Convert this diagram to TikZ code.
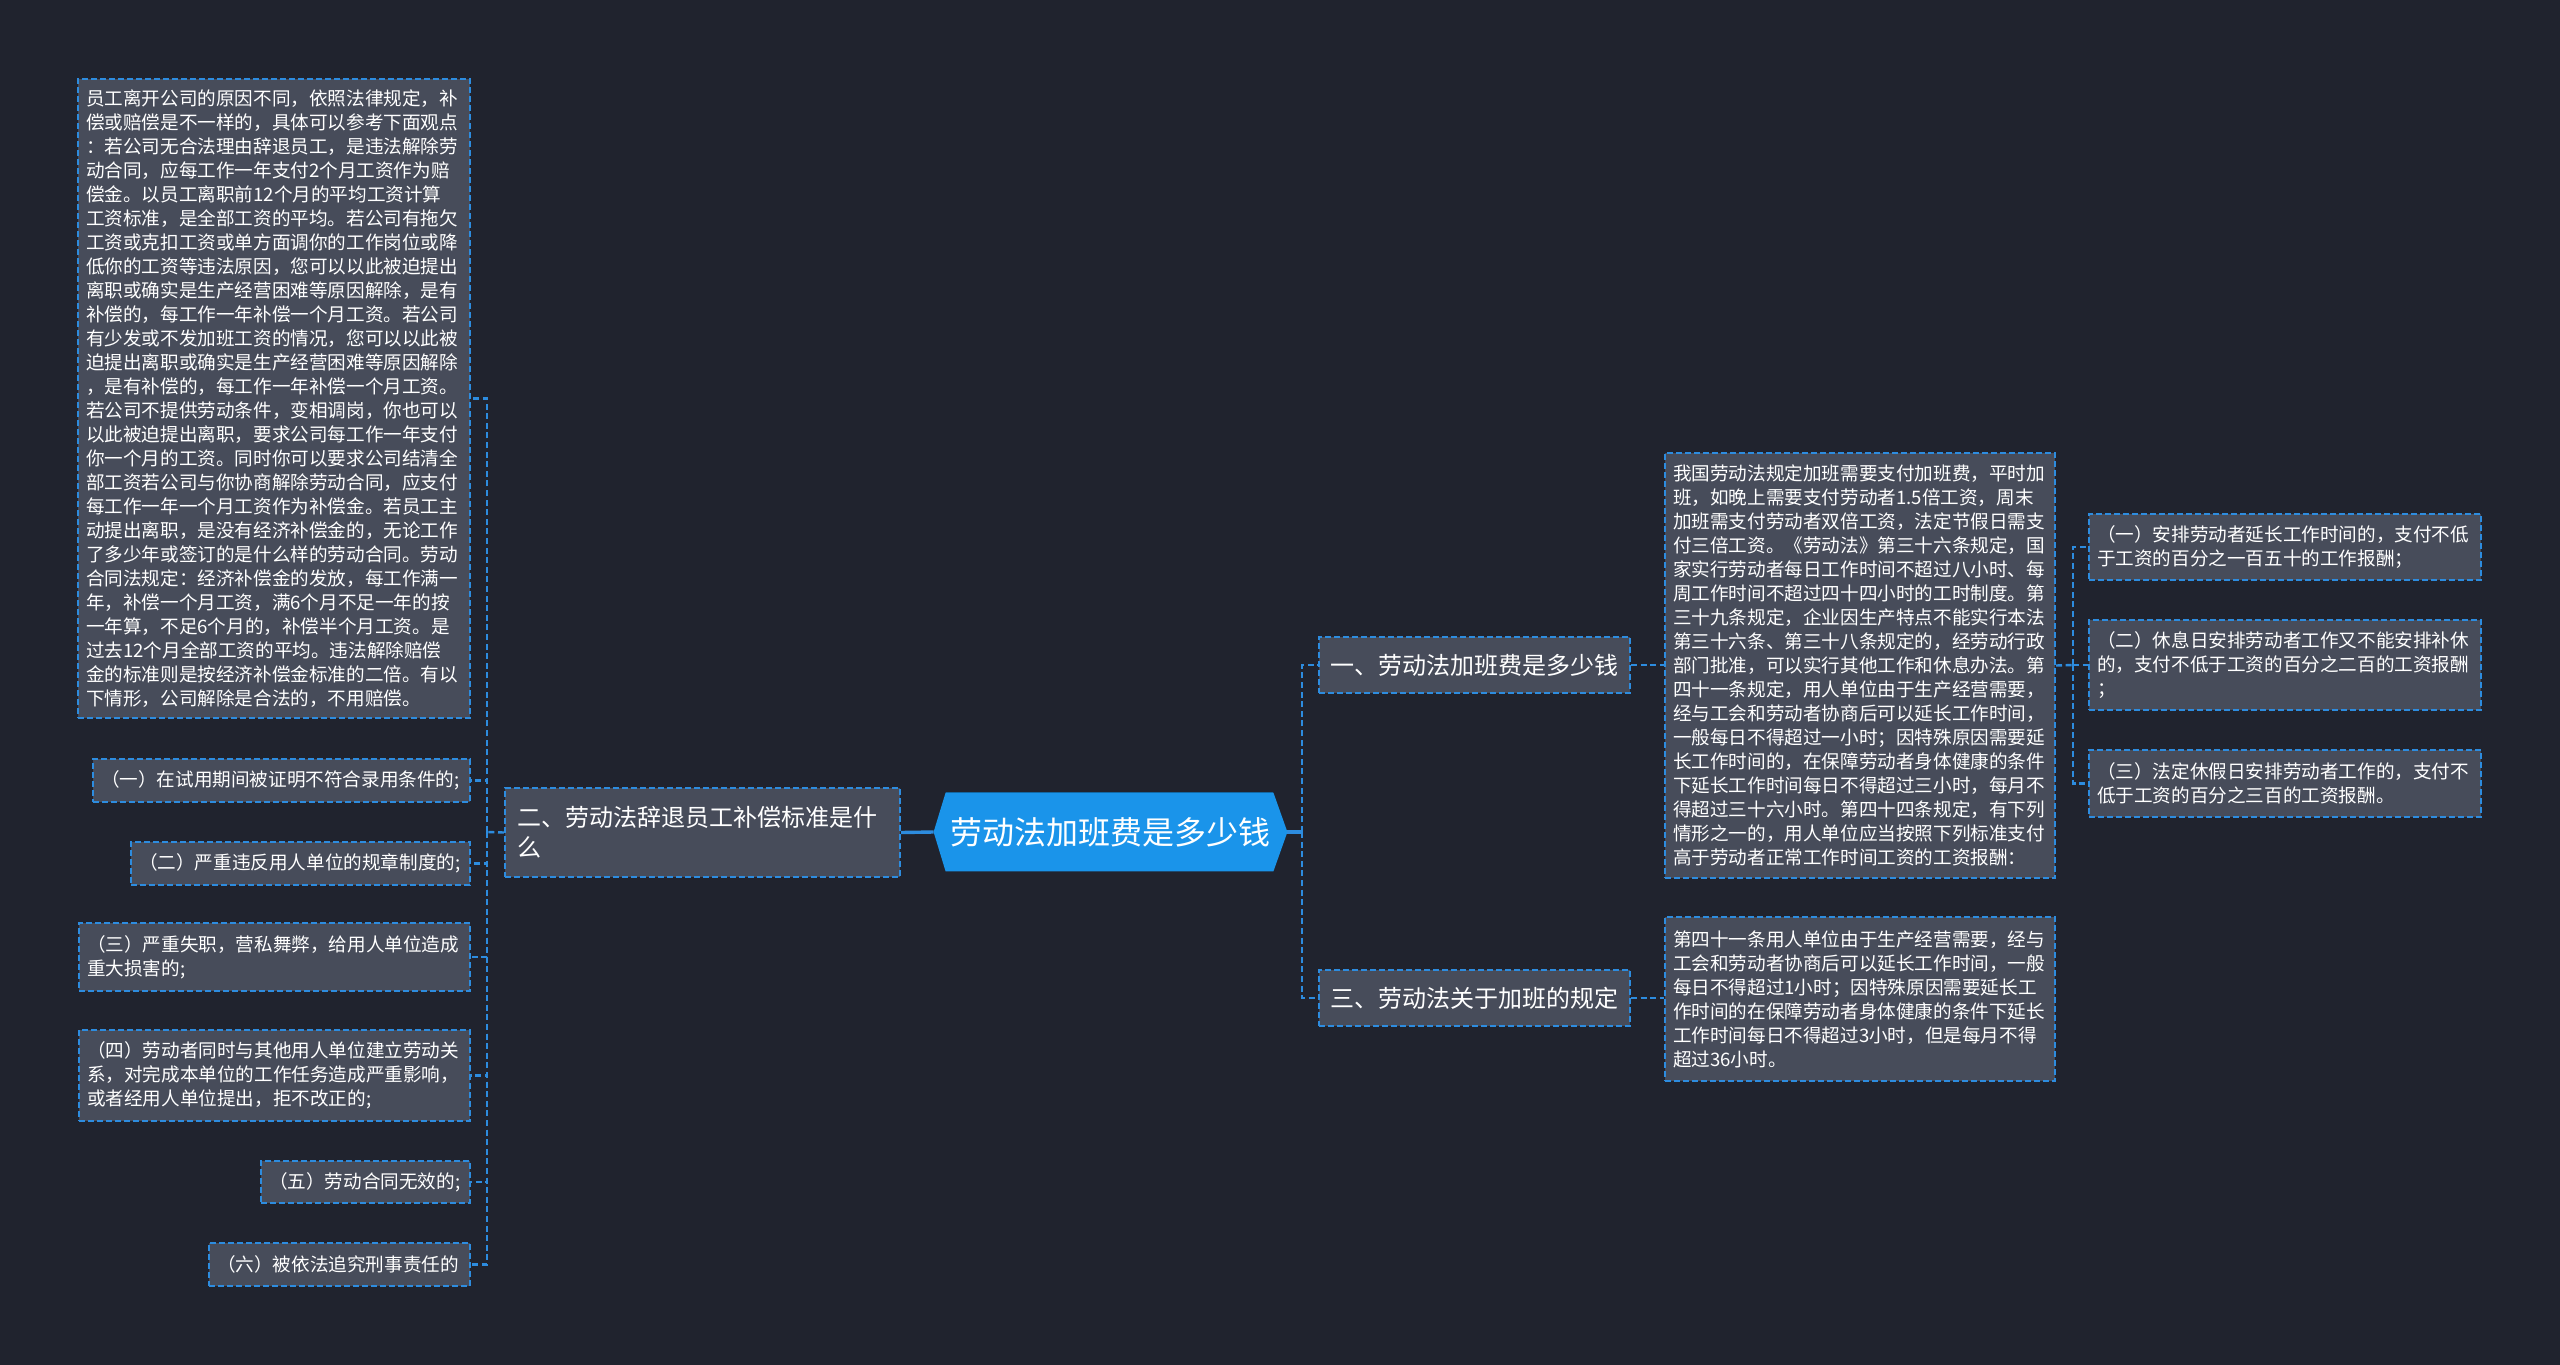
\documentclass[tikz,border=0pt]{standalone}
\usepackage{fontspec}
\setmainfont{Noto Sans CJK SC}
\usetikzlibrary{backgrounds}
\definecolor{bgc}{HTML}{20232E}
\definecolor{nodefill}{HTML}{474C5A}
\definecolor{dashblue}{HTML}{2D8CDF}
\definecolor{rootblue}{HTML}{1A94EA}
\begin{document}
\begin{tikzpicture}[x=0.5pt,y=-0.5pt,
  box/.style={draw=dashblue, fill=nodefill, line width=1pt, dash pattern=on 3pt off 1.5pt, text=white, align=left, inner ysep=0pt, anchor=center},
  small/.style={font=\fontsize{9.3}{12}\selectfont, inner xsep=4pt},
  mid/.style={font=\fontsize{12}{15}\selectfont, inner xsep=6pt},
  conn/.style={draw=dashblue, line width=1.2pt, dash pattern=on 3pt off 1.8pt},
  rootconn/.style={draw=dashblue, line width=1.7pt},
]
\useasboundingbox (0,0) rectangle (2560,1365);
\begin{scope}[on background layer]
\fill[bgc] (0,0) rectangle (2560,1365);
\end{scope}

% root
\node[font=\fontsize{16}{19}\selectfont, text=white, minimum width=176.5pt, minimum height=39pt, inner sep=0pt] (root) at (1110.5,832) {劳动法加班费是多少钱};
\begin{scope}[on background layer]
\fill[rootblue] (root.west) -- ([xshift=6pt]root.north west) -- ([xshift=-7pt]root.north east) -- (root.east) -- ([xshift=-7pt]root.south east) -- ([xshift=6pt]root.south west) -- cycle;
\draw[rootblue!70!black, line width=0.6pt] ([xshift=6pt]root.north west) -- ([xshift=-7pt]root.north east);
\end{scope}

% left branch
\node[box, mid, text width=185.5pt, minimum height=44.5pt] (n2) at (702.5,832.5) {二、劳动法辞退员工补偿标准是什\\么};

\node[box, small, text width=188pt, minimum height=319.5pt] (lbig) at (274,398.5) {员工离开公司的原因不同，依照法律规定，补\\偿或赔偿是不一样的，具体可以参考下面观点\\：若公司无合法理由辞退员工，是违法解除劳\\动合同，应每工作一年支付2个月工资作为赔\\偿金。以员工离职前12个月的平均工资计算\\工资标准，是全部工资的平均。若公司有拖欠\\工资或克扣工资或单方面调你的工作岗位或降\\低你的工资等违法原因，您可以以此被迫提出\\离职或确实是生产经营困难等原因解除，是有\\补偿的，每工作一年补偿一个月工资。若公司\\有少发或不发加班工资的情况，您可以以此被\\迫提出离职或确实是生产经营困难等原因解除\\，是有补偿的，每工作一年补偿一个月工资。\\若公司不提供劳动条件，变相调岗，你也可以\\以此被迫提出离职，要求公司每工作一年支付\\你一个月的工资。同时你可以要求公司结清全\\部工资若公司与你协商解除劳动合同，应支付\\每工作一年一个月工资作为补偿金。若员工主\\动提出离职，是没有经济补偿金的，无论工作\\了多少年或签订的是什么样的劳动合同。劳动\\合同法规定：经济补偿金的发放，每工作满一\\年，补偿一个月工资，满6个月不足一年的按\\一年算，不足6个月的，补偿半个月工资。是\\过去12个月全部工资的平均。违法解除赔偿\\金的标准则是按经济补偿金标准的二倍。有以\\下情形，公司解除是合法的，不用赔偿。};

\node[box, small, text width=180.5pt, minimum height=21.5pt] (l1) at (281.5,780.5) {（一）在试用期间被证明不符合录用条件的;};
\node[box, small, text width=161.5pt, minimum height=21.5pt] (l2) at (300.5,863.5) {（二）严重违反用人单位的规章制度的;};
\node[box, small, text width=187.5pt, minimum height=34pt] (l3) at (274.5,957) {（三）严重失职，营私舞弊，给用人单位造成\\重大损害的;};
\node[box, small, text width=187.5pt, minimum height=45.5pt] (l4) at (274.5,1075.5) {（四）劳动者同时与其他用人单位建立劳动关\\系，对完成本单位的工作任务造成严重影响，\\或者经用人单位提出，拒不改正的;};
\node[box, small, text width=96.5pt, minimum height=21pt] (l5) at (365.5,1182) {（五）劳动合同无效的;};
\node[box, small, text width=122.5pt, minimum height=21.5pt] (l6) at (339.5,1264.5) {（六）被依法追究刑事责任的};

% right branch
\node[box, mid, inner xsep=5.5pt, text width=144.5pt, minimum height=28pt] (r1) at (1474.5,665) {一、劳动法加班费是多少钱};
\node[box, mid, inner xsep=5.5pt, text width=144.5pt, minimum height=28pt] (r3) at (1474.5,998) {三、劳动法关于加班的规定};

\node[box, small, text width=187pt, minimum height=212.5pt] (rbig) at (1860,665.5) {我国劳动法规定加班需要支付加班费，平时加\\班，如晚上需要支付劳动者1.5倍工资，周末\\加班需支付劳动者双倍工资，法定节假日需支\\付三倍工资。《劳动法》第三十六条规定，国\\家实行劳动者每日工作时间不超过八小时、每\\周工作时间不超过四十四小时的工时制度。第\\三十九条规定，企业因生产特点不能实行本法\\第三十六条、第三十八条规定的，经劳动行政\\部门批准，可以实行其他工作和休息办法。第\\四十一条规定，用人单位由于生产经营需要，\\经与工会和劳动者协商后可以延长工作时间，\\一般每日不得超过一小时；因特殊原因需要延\\长工作时间的，在保障劳动者身体健康的条件\\下延长工作时间每日不得超过三小时，每月不\\得超过三十六小时。第四十四条规定，有下列\\情形之一的，用人单位应当按照下列标准支付\\高于劳动者正常工作时间工资的工资报酬：};
\node[box, small, text width=187pt, minimum height=82pt] (r2t) at (1860,999) {第四十一条用人单位由于生产经营需要，经与\\工会和劳动者协商后可以延长工作时间，一般\\每日不得超过1小时；因特殊原因需要延长工\\作时间的在保障劳动者身体健康的条件下延长\\工作时间每日不得超过3小时，但是每月不得\\超过36小时。};

\node[box, small, text width=188pt, minimum height=33pt] (s1) at (2285,547) {（一）安排劳动者延长工作时间的，支付不低\\于工资的百分之一百五十的工作报酬；};
\node[box, small, text width=188pt, minimum height=45pt] (s2) at (2285,665) {（二）休息日安排劳动者工作又不能安排补休\\的，支付不低于工资的百分之二百的工资报酬\\；};
\node[box, small, text width=188pt, minimum height=33.5pt] (s3) at (2285,783.5) {（三）法定休假日安排劳动者工作的，支付不\\低于工资的百分之三百的工资报酬。};

% trunks
\coordinate (ltrunk) at (487,832);
\coordinate (rtrunk) at (1302,832);
\coordinate (rtrunk2) at (2073,665);

% connectors
\draw[rootconn] (root.west) -- (n2.east);
\draw[rootconn] (root.east) -- (rtrunk);
\draw[conn] (n2.west) -- (ltrunk);
\foreach \n in {lbig,l1,l2,l3,l4,l5,l6} \draw[conn] (ltrunk) |- (\n.east);
\foreach \n in {r1,r3} \draw[conn] (rtrunk) |- (\n.west);
\draw[conn] (r1.east) -- (r1.east -| rbig.west);
\draw[conn] (r3.east) -- (r3.east -| r2t.west);
\draw[conn] (rbig.east) -- (rtrunk2);
\foreach \n in {s1,s2,s3} \draw[conn] (rtrunk2) |- (\n.west);
\end{tikzpicture}
\end{document}
